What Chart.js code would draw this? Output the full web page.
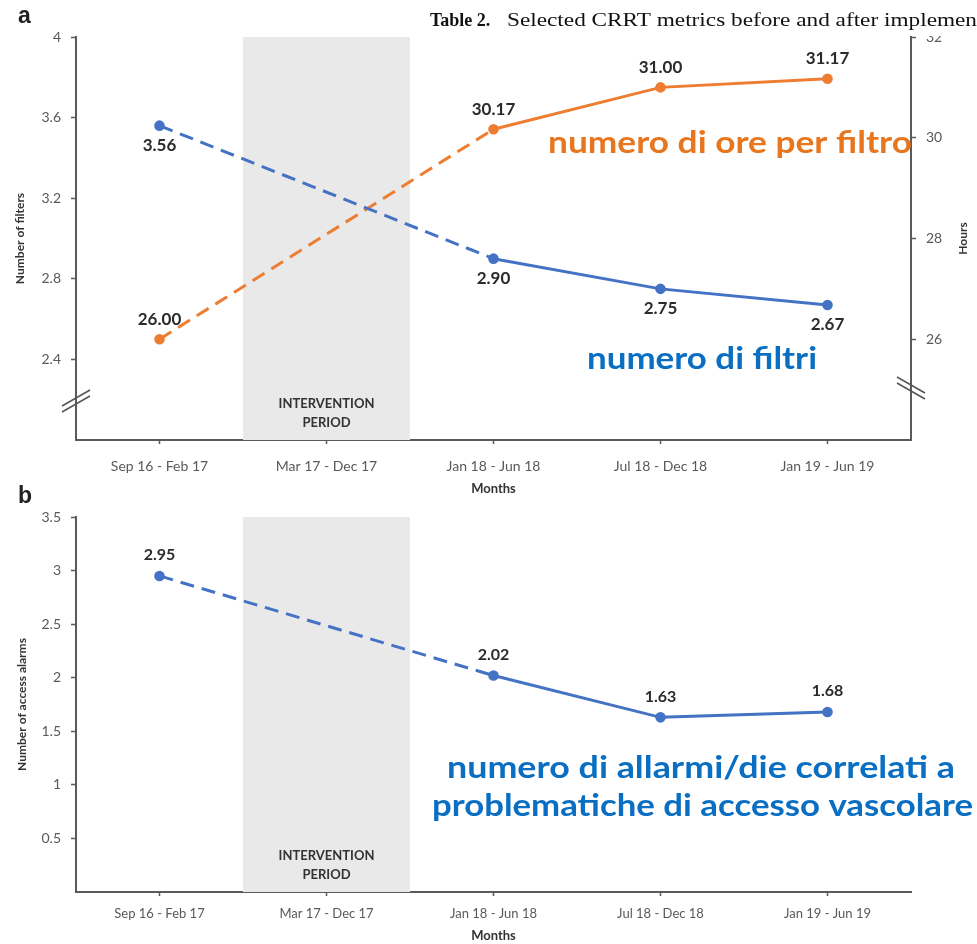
<!DOCTYPE html>
<html>
<head>
<meta charset="utf-8">
<script src="https://cdn.jsdelivr.net/npm/chart.js@4"></script>
<style>
  body { margin: 0; background: #fff; width: 977px; height: 944px; overflow: hidden; position: relative; }
  canvas { position: absolute; left: 0; }
  #chartA { top: 0; }
  #chartB { top: 484px; }
</style>
</head>
<body>
<canvas id="chartA" width="977" height="500"></canvas>
<canvas id="chartB" width="977" height="460"></canvas>
<script>
// values (the middle period is the intervention, no value there)
const categories = ['Sep 16 - Feb 17', 'Mar 17 - Dec 17', 'Jan 18 - Jun 18', 'Jul 18 - Dec 18', 'Jan 19 - Jun 19'];
const filtersPerPeriod = [3.56, null, 2.90, 2.75, 2.67];
const hoursPerFilter = [26.00, null, 30.17, 31.00, 31.17];
const accessAlarms = [2.95, null, 2.02, 1.63, 1.68];
const filterTicks = [2.4, 2.8, 3.2, 3.6, 4];
const hourTicks = [26, 28, 30, 32];
const alarmTicks = [0.5, 1, 1.5, 2, 2.5, 3, 3.5];
const interventionIndex = 1;

const BLUE = '#4472C4';
const ORANGE = '#ED7D31';
const AXIS = '#5a5a5a';
const TICK_TEXT = '#595959';

Chart.defaults.font.family = 'Lato, sans-serif';
Chart.defaults.animation = false;

function lineSet(data, color, axis, pos) {
  return {
    data: data,
    yAxisID: axis,
    borderColor: color,
    backgroundColor: color,
    borderWidth: 3,
    pointRadius: 3.8,
    pointHoverRadius: 3.8,
    spanGaps: true,
    tension: 0,
    // the span across the intervention gap is dashed
    segment: { borderDash: c => c.p1DataIndex <= interventionIndex + 1 ? [14, 8] : undefined },
    labelPos: pos
  };
}

// grey block behind the intervention period
const intervention = {
  id: 'intervention',
  beforeDatasetsDraw(chart) {
    const { ctx, chartArea: a, scales: { x } } = chart;
    const w = x.width / categories.length;
    const cx = x.getPixelForValue(interventionIndex);
    ctx.save();
    ctx.fillStyle = '#e9e9e9';
    ctx.fillRect(cx - w / 2, a.top, w, a.bottom - a.top);
    ctx.fillStyle = '#333';
    ctx.font = 'bold 13px Lato, sans-serif';
    ctx.textAlign = 'center';
    ctx.textBaseline = 'middle';
    ctx.fillText('INTERVENTION', cx, a.bottom - 36);
    ctx.fillText('PERIOD', cx, a.bottom - 17);
    ctx.restore();
  }
};

const valueLabels = {
  id: 'valueLabels',
  afterDatasetsDraw(chart, args, opts) {
    const ctx = chart.ctx;
    ctx.save();
    ctx.font = 'bold ' + opts.size + 'px Lato, sans-serif';
    ctx.fillStyle = '#2b2b2b';
    ctx.textAlign = 'center';
    ctx.textBaseline = 'middle';
    chart.data.datasets.forEach((ds, i) => {
      chart.getDatasetMeta(i).data.forEach((pt, j) => {
        const v = ds.data[j];
        if (v == null) return;
        const dy = ds.labelPos[j] === 'below' ? opts.gap : -opts.gap;
        ctx.fillText(v.toFixed(2), pt.x, pt.y + dy);
      });
    });
    ctx.restore();
  }
};

function fitText(ctx, text, x, y, w) {
  const k = w / ctx.measureText(text).width;
  ctx.save();
  ctx.translate(x, y);
  ctx.scale(k, 1);
  ctx.fillText(text, 0, 0);
  ctx.restore();
}

// panel letter, break marks, coloured notes, right axis title, header strip
const decor = {
  id: 'decor',
  afterDraw(chart, args, opts) {
    const ctx = chart.ctx;
    ctx.save();
    ctx.textBaseline = 'alphabetic';
    ctx.textAlign = 'left';
    ctx.fillStyle = '#222';
    ctx.font = 'bold 23px "Liberation Sans", sans-serif';
    ctx.fillText(opts.letter, 18, opts.letterY);

    ctx.strokeStyle = '#555';
    ctx.lineWidth = 1.5;
    (opts.breaks || []).forEach(b => {
      [-3, 3].forEach(o => {
        ctx.beginPath();
        ctx.moveTo(b.x - 14, b.y + o - 8 * b.dir);
        ctx.lineTo(b.x + 14, b.y + o + 8 * b.dir);
        ctx.stroke();
      });
    });

    if (opts.rightTitle) {
      const a = chart.chartArea;
      ctx.save();
      ctx.translate(963, (a.top + a.bottom) / 2);
      ctx.rotate(-Math.PI / 2);
      ctx.fillStyle = '#333';
      ctx.font = 'bold 12px Lato, sans-serif';
      ctx.textAlign = 'center';
      ctx.textBaseline = 'middle';
      ctx.fillText(opts.rightTitle, 0, 0);
      ctx.restore();
    }

    (opts.notes || []).forEach(n => {
      ctx.fillStyle = n.color;
      ctx.font = 'bold ' + n.size + 'px Lato, sans-serif';
      fitText(ctx, n.text, n.x, n.y, n.w);
    });

    if (opts.header) {
      ctx.fillStyle = '#fff';
      ctx.fillRect(425, 6, 552, 30);
      ctx.fillStyle = '#111';
      ctx.font = 'bold 18px "Liberation Serif", serif';
      ctx.fillText('Table 2.', 430, 26);
      ctx.font = '18px "Liberation Serif", serif';
      fitText(ctx, 'Selected CRRT metrics before and after implemen', 507, 26, 470);
    }
    ctx.restore();
  }
};

function xScale(h, pad, size) {
  return {
    offset: true,
    grid: { drawOnChartArea: false, tickLength: 4, color: AXIS, tickWidth: 1.5 },
    border: { color: AXIS, width: 2 },
    ticks: { color: TICK_TEXT, font: { size: size }, padding: pad, maxRotation: 0 },
    title: { display: true, text: 'Months', color: '#333', font: { size: 13, weight: 'bold' }, padding: { top: 0, bottom: h === 60 ? 3 : 0 } },
    afterFit: s => { s.height = h; }
  };
}

function yScale(pos, min, max, list, title, titlePad, w) {
  return {
    position: pos,
    min: min,
    max: max,
    afterBuildTicks: s => { s.ticks = list.map(v => ({ value: v })); },
    grid: { drawOnChartArea: false, tickLength: 5, color: AXIS, tickWidth: 1.5 },
    border: { color: AXIS, width: 2 },
    ticks: { color: TICK_TEXT, font: { size: 14 }, padding: 10, callback: v => String(v) },
    title: { display: !!title, text: title, color: '#333', font: { size: 12, weight: 'bold' }, padding: { top: titlePad } },
    afterFit: s => { s.width = w; }
  };
}

const chartA = new Chart('chartA', {
  type: 'line',
  data: {
    labels: categories,
    datasets: [
      lineSet(filtersPerPeriod, BLUE, 'y', ['below', 'below', 'below', 'below', 'below']),
      lineSet(hoursPerFilter, ORANGE, 'y1', ['above', 'above', 'above', 'above', 'above'])
    ]
  },
  options: {
    responsive: false,
    devicePixelRatio: 1,
    layout: { padding: { top: 37, left: 0, right: 0, bottom: 0 } },
    scales: {
      x: xScale(60, 14, 14),
      y: yScale('left', 2, 4, filterTicks, 'Number of filters', 13, 76),
      y1: yScale('right', 24, 32, hourTicks, '', 0, 66)
    },
    plugins: {
      legend: { display: false },
      tooltip: { enabled: false },
      valueLabels: { size: 17, gap: 20 },
      decor: {
        letter: 'a', letterY: 23, header: true, rightTitle: 'Hours',
        breaks: [{ x: 76, y: 401, dir: -1 }, { x: 911, y: 388, dir: 1 }],
        notes: [
          { text: 'numero di ore per filtro', color: '#E8761F', size: 31, x: 548, y: 153, w: 364 },
          { text: 'numero di filtri', color: '#0A6FC2', size: 30, x: 587, y: 369, w: 230 }
        ]
      }
    }
  },
  plugins: [intervention, valueLabels, decor]
});

const chartB = new Chart('chartB', {
  type: 'line',
  data: {
    labels: categories,
    datasets: [
      lineSet(accessAlarms, BLUE, 'y', ['above', 'above', 'above', 'above', 'above'])
    ]
  },
  options: {
    responsive: false,
    devicePixelRatio: 1,
    layout: { padding: { top: 33, left: 0, right: 66, bottom: 0 } },
    scales: {
      x: xScale(52, 10, 13),
      y: yScale('left', 0, 3.5, alarmTicks, 'Number of access alarms', 15, 76)
    },
    plugins: {
      legend: { display: false },
      tooltip: { enabled: false },
      valueLabels: { size: 16, gap: 21 },
      decor: {
        letter: 'b', letterY: 19, header: false,
        notes: [
          { text: 'numero di allarmi/die correlati a', color: '#0A6FC2', size: 30, x: 447, y: 294, w: 508 },
          { text: 'problematiche di accesso vascolare', color: '#0A6FC2', size: 30, x: 432, y: 332, w: 541 }
        ]
      }
    }
  },
  plugins: [intervention, valueLabels, decor]
});
</script>
</body>
</html>
